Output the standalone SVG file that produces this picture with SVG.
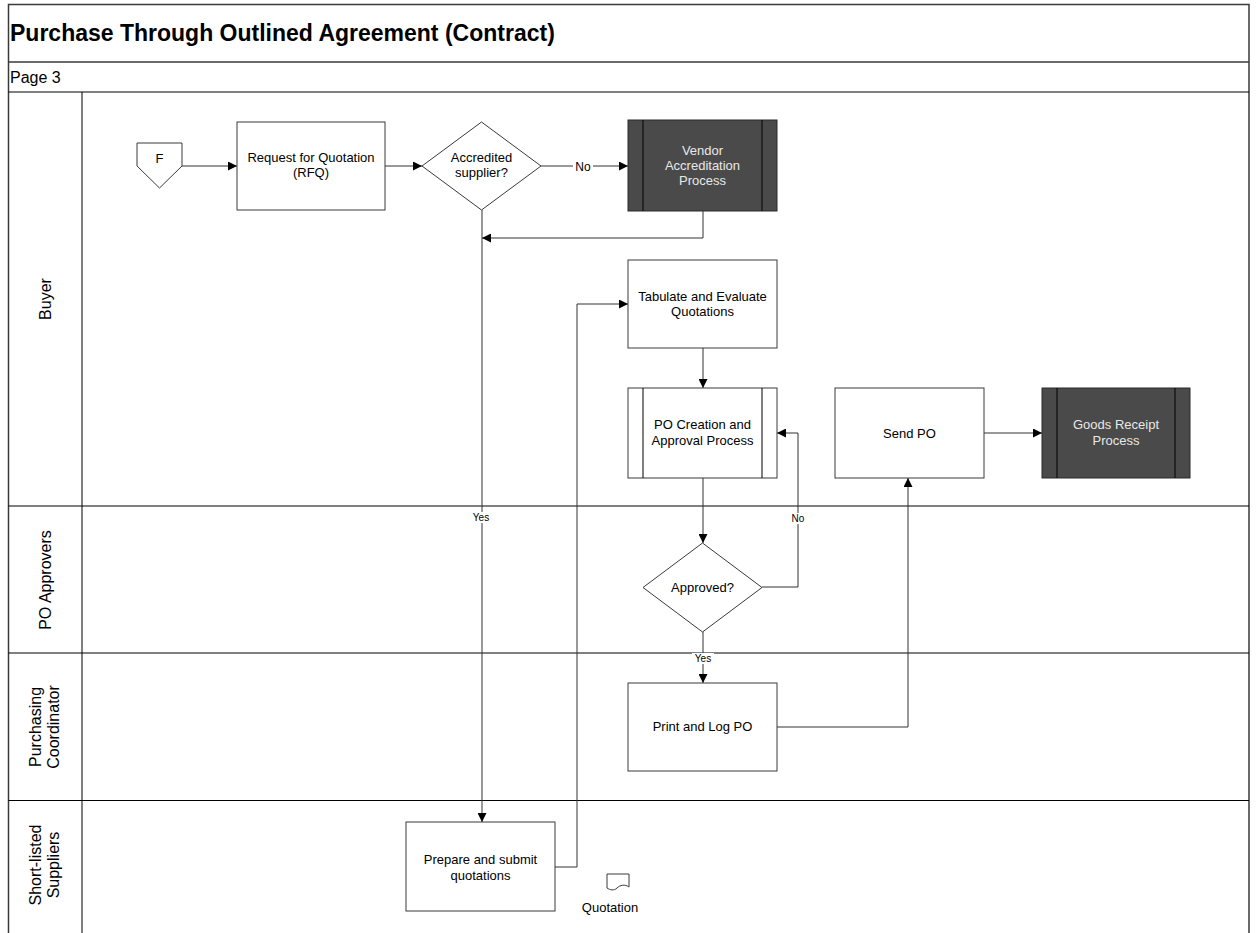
<svg xmlns="http://www.w3.org/2000/svg" width="1256" height="933" viewBox="0 0 1256 933">
  <style>
    .frame { fill: none; stroke: #3a3a3a; stroke-width: 1.5; }
    .lane { stroke: #000; stroke-width: 1; fill: none; }
    .box { fill: #fff; stroke: #3a3a3a; stroke-width: 1; }
    .dark { fill: #4a4a4a; stroke: #2a2a2a; stroke-width: 1; }
    .bar { stroke: #000; stroke-width: 1; fill: none; }
    .conn { fill: none; stroke: #333; stroke-width: 1; }
    .t { font-family: "Liberation Sans", Arial, sans-serif; font-size: 13px; fill: #000; text-anchor: middle; }
    .tl { font-family: "Liberation Sans", Arial, sans-serif; font-size: 13px; fill: #e8e8e8; text-anchor: middle; }
    .lbl { font-family: "Liberation Sans", Arial, sans-serif; font-size: 10px; fill: #000; text-anchor: middle; }
    .lanet { font-family: "Liberation Sans", Arial, sans-serif; font-size: 16px; fill: #000; text-anchor: middle; }
    .title { font-family: "Liberation Sans", Arial, sans-serif; font-size: 23px; font-weight: bold; fill: #000; }
    .page { font-family: "Liberation Sans", Arial, sans-serif; font-size: 16px; fill: #000; }
  </style>
  <defs>
    <marker id="arrow" viewBox="0 0 10 10" refX="10" refY="5" markerWidth="9" markerHeight="9" markerUnits="userSpaceOnUse" orient="auto">
      <path d="M0,0 L10,5 L0,10 Z" fill="#000"/>
    </marker>
  </defs>

  <rect width="1256" height="933" fill="#fff"/>

  <!-- pool frame, title and page rows -->
  <g id="pool">
    <path class="frame" d="M8.5,940 V4.5 H1249 V940"/>
    <line class="frame" x1="8.5" y1="62" x2="1249" y2="62"/>
    <line class="lane" x1="8.5" y1="92" x2="1249" y2="92"/>
    <text class="title" x="10" y="41">Purchase Through Outlined Agreement (Contract)</text>
    <text class="page" x="10" y="83">Page 3</text>
  </g>

  <!-- swimlanes -->
  <g id="lanes">
    <line class="lane" x1="82" y1="92" x2="82" y2="940"/>
    <line class="lane" x1="8.5" y1="506" x2="1249" y2="506"/>
    <line class="lane" x1="8.5" y1="653" x2="1249" y2="653"/>
    <line class="lane" x1="8.5" y1="800.5" x2="1249" y2="800.5"/>
    <text class="lanet" transform="translate(45,299) rotate(-90)" y="6">Buyer</text>
    <text class="lanet" transform="translate(45,580) rotate(-90)" y="6">PO Approvers</text>
    <text class="lanet" transform="translate(45,727) rotate(-90)"><tspan x="0" y="-4">Purchasing</tspan><tspan x="0" y="14">Coordinator</tspan></text>
    <text class="lanet" transform="translate(45,865) rotate(-90)"><tspan x="0" y="-4">Short-listed</tspan><tspan x="0" y="14">Suppliers</tspan></text>
  </g>

  <!-- connectors -->
  <g id="connectors">
    <line class="conn" x1="182" y1="166" x2="237" y2="166" marker-end="url(#arrow)"/>
    <line class="conn" x1="385" y1="166" x2="422" y2="166" marker-end="url(#arrow)"/>
    <line class="conn" x1="541" y1="166" x2="628" y2="166" marker-end="url(#arrow)"/>
    <rect x="573" y="159" width="20" height="14" fill="#fff"/>
    <text class="t" x="583" y="170.5" style="font-size:12px">No</text>
    <polyline class="conn" points="703,211 703,238 482,238" marker-end="url(#arrow)"/>
    <line class="conn" x1="482" y1="210" x2="482" y2="822" marker-end="url(#arrow)"/>
    <rect x="471" y="512" width="21" height="11" fill="#fff"/>
    <text class="lbl" x="481" y="521">Yes</text>
    <polyline class="conn" points="555,867 577,867 577,304 628,304" marker-end="url(#arrow)"/>
    <line class="conn" x1="703" y1="348" x2="703" y2="388" marker-end="url(#arrow)"/>
    <line class="conn" x1="703" y1="478" x2="703" y2="543" marker-end="url(#arrow)"/>
    <polyline class="conn" points="762,587 798,587 798,433 777,433" marker-end="url(#arrow)"/>
    <rect x="790" y="513" width="16" height="11" fill="#fff"/>
    <text class="lbl" x="798" y="522">No</text>
    <line class="conn" x1="703" y1="631" x2="703" y2="683" marker-end="url(#arrow)"/>
    <rect x="692" y="653" width="22" height="11" fill="#fff"/>
    <text class="lbl" x="703" y="662">Yes</text>
    <polyline class="conn" points="777,727 908,727 908,478" marker-end="url(#arrow)"/>
    <line class="conn" x1="984" y1="433" x2="1042" y2="433" marker-end="url(#arrow)"/>
  </g>

  <!-- nodes -->
  <g id="node-f">
    <path class="box" d="M137,143 H182 V166 L159.5,188 L137,166 Z"/>
    <text class="t" x="159.5" y="163">F</text>
  </g>

  <g id="node-rfq">
    <rect class="box" x="237" y="122" width="148" height="88"/>
    <text class="t" x="311" y="162">Request for Quotation</text>
    <text class="t" x="311" y="177">(RFQ)</text>
  </g>

  <g id="node-accredited">
    <path class="box" d="M481.5,122 L541,166 L481.5,210 L422,166 Z"/>
    <text class="t" x="481.5" y="162">Accredited</text>
    <text class="t" x="481.5" y="177">supplier?</text>
  </g>

  <g id="node-vendor-accreditation">
    <rect class="dark" x="628" y="120" width="149" height="91"/>
    <line class="bar" x1="643" y1="120" x2="643" y2="211"/>
    <line class="bar" x1="762" y1="120" x2="762" y2="211"/>
    <text class="tl" x="702.5" y="155">Vendor</text>
    <text class="tl" x="702.5" y="170">Accreditation</text>
    <text class="tl" x="702.5" y="185">Process</text>
  </g>

  <g id="node-tabulate">
    <rect class="box" x="628" y="260" width="149" height="88"/>
    <text class="t" x="702.5" y="301">Tabulate and Evaluate</text>
    <text class="t" x="702.5" y="316">Quotations</text>
  </g>

  <g id="node-po-creation">
    <rect class="box" x="628" y="388" width="149" height="90"/>
    <line class="bar" x1="643" y1="388" x2="643" y2="478"/>
    <line class="bar" x1="762" y1="388" x2="762" y2="478"/>
    <text class="t" x="702.5" y="429">PO Creation and</text>
    <text class="t" x="702.5" y="445">Approval Process</text>
  </g>

  <g id="node-send-po">
    <rect class="box" x="835" y="388" width="149" height="90"/>
    <text class="t" x="909.5" y="437.5">Send PO</text>
  </g>

  <g id="node-goods-receipt">
    <rect class="dark" x="1042" y="388" width="148" height="90"/>
    <line class="bar" x1="1057" y1="388" x2="1057" y2="478"/>
    <line class="bar" x1="1175" y1="388" x2="1175" y2="478"/>
    <text class="tl" x="1116" y="429">Goods Receipt</text>
    <text class="tl" x="1116" y="445">Process</text>
  </g>

  <g id="node-approved">
    <path class="box" d="M702.5,543 L762,587.5 L702.5,632 L643,587.5 Z"/>
    <text class="t" x="702.5" y="592">Approved?</text>
  </g>

  <g id="node-print-log">
    <rect class="box" x="628" y="683" width="149" height="88"/>
    <text class="t" x="702.5" y="731">Print and Log PO</text>
  </g>

  <g id="node-prepare">
    <rect class="box" x="406" y="822" width="149" height="89"/>
    <text class="t" x="480.5" y="863.5">Prepare and submit</text>
    <text class="t" x="480.5" y="879.5">quotations</text>
  </g>

  <g id="node-quotation">
    <path class="box" d="M607,874 H629 V887 C625,884 620,885 617,888 C614,891 610,890 607,888 Z"/>
    <text class="t" x="610" y="912">Quotation</text>
  </g>
</svg>
